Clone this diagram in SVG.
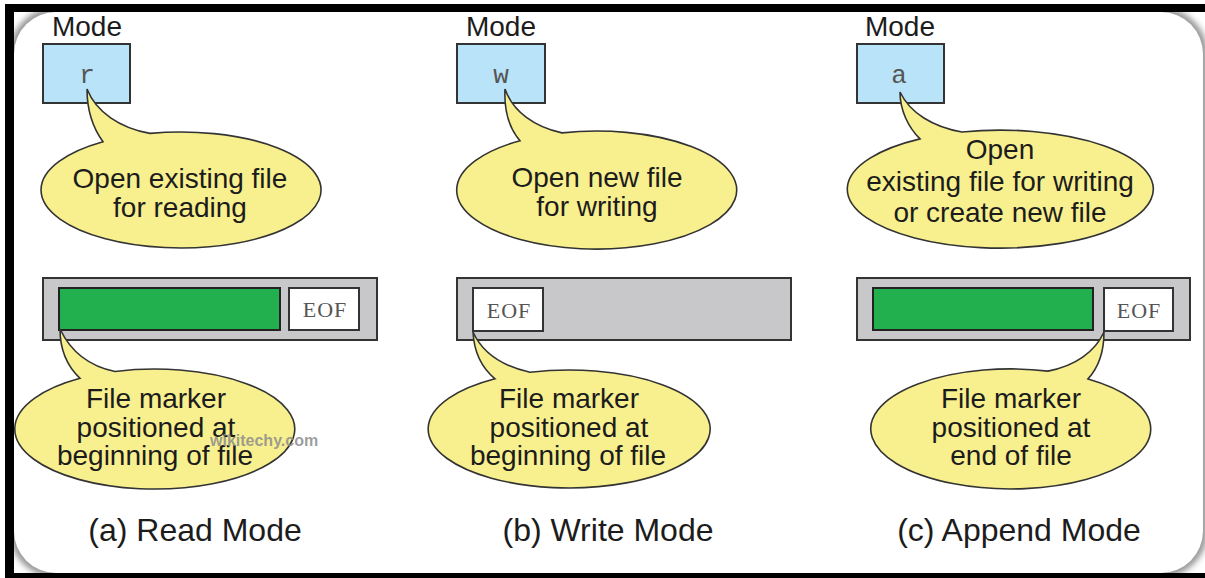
<svg xmlns="http://www.w3.org/2000/svg" width="1205" height="578" viewBox="0 0 1205 578">
<style>
.lbl{font-family:"Liberation Sans",Arial,sans-serif;font-size:28px;fill:#1c1c1c;text-anchor:middle}
.cap{font-family:"Liberation Sans",Arial,sans-serif;font-size:32px;fill:#1c1c1c;text-anchor:middle}
.mono{font-family:"Liberation Mono","Courier New",monospace;fill:#555;text-anchor:middle}
.eoft{font-family:"Liberation Serif","Times New Roman",serif;font-size:22px;fill:#555;text-anchor:middle;letter-spacing:1px}
.mode{fill:#b9e3f8;stroke:#333;stroke-width:2}
.bub{fill:#f8f08e;stroke:#333;stroke-width:1.6}
.bar{fill:#c8c8ca;stroke:#333;stroke-width:2}
.grn{fill:#22b04e;stroke:#222;stroke-width:2}
.eof{fill:#fff;stroke:#333;stroke-width:2}
</style>
<defs>
<filter id="sh" x="-5%" y="-5%" width="110%" height="110%"><feGaussianBlur stdDeviation="3"/></filter>
<clipPath id="inner"><rect x="14" y="12" width="1191" height="561"/></clipPath>
</defs>
<g id="frame">
<rect x="0" y="0" width="1205" height="578" fill="#fff"/>
<g clip-path="url(#inner)">
<rect x="14" y="12" width="1189" height="561" rx="42" fill="none" stroke="#8a8a8a" stroke-width="8" filter="url(#sh)"/>
<rect x="14" y="12" width="1189" height="561" rx="42" fill="#fff"/>
</g>
<rect x="5" y="4" width="1200" height="8" fill="#000"/>
<rect x="5" y="4" width="9" height="574" fill="#000"/>
<rect x="5" y="573" width="1200" height="5" fill="#000"/>
</g>

<g id="connectors"></g>

<g id="panel-a">
<g id="mode-a">
<text class="lbl" x="87" y="36">Mode</text>
<rect class="mode" x="43" y="44" width="87" height="59"/>
<text class="mono" x="87" y="83" font-size="26">r</text>
</g>
<g id="bubble-a-top">
<path class="bub" d="M103,141.8 C93,128 87,110 87,89 C96,112 120,128 150,133.4 A140 58 0 1 1 103,141.8 Z"/>
<text class="lbl" x="180" y="188">Open existing file</text>
<text class="lbl" x="180" y="217">for reading</text>
</g>
<g id="bar-a">
<rect class="bar" x="43" y="278" width="334" height="62"/>
<rect class="grn" x="59" y="288" width="221" height="42"/>
<rect class="eof" x="289" y="288" width="70" height="42"/>
<text class="eoft" x="325" y="317">EOF</text>
</g>
<g id="bubble-a-bottom">
<path class="bub" d="M80,378.3 C68,367 60,350 60,329 C70,350 88,366 115,371.5 A140 60 0 1 1 80,378.3 Z"/>
<text class="lbl" x="156" y="408">File marker</text>
<text class="lbl" x="156" y="437">positioned at</text>
<text class="lbl" x="155" y="465">beginning of file</text>
<text x="210" y="446" font-family="'Liberation Sans',Arial,sans-serif" font-size="16" font-weight="bold" fill="#8c8c8c" fill-opacity="0.85">wikitechy.com</text>
</g>
<text id="caption-a" class="cap" x="195" y="541">(a) Read Mode</text>
</g>

<g id="panel-b">
<g id="mode-b">
<text class="lbl" x="501" y="36">Mode</text>
<rect class="mode" x="457" y="44" width="88" height="59"/>
<text class="mono" x="501" y="83" font-size="26">w</text>
</g>
<g id="bubble-b-top">
<path class="bub" d="M520,140.7 C509,128 504,110 505,89 C513,112 535,127 562,132.9 A140 59 0 1 1 520,140.7 Z"/>
<text class="lbl" x="597" y="187">Open new file</text>
<text class="lbl" x="597" y="216">for writing</text>
</g>
<g id="bar-b">
<rect class="bar" x="457" y="278" width="334" height="62"/>
<rect class="eof" x="473" y="288" width="70" height="43"/>
<text class="eoft" x="509" y="318">EOF</text>
</g>
<g id="bubble-b-bottom">
<path class="bub" d="M495,378.8 C482,368 474,352 473,332 C482,352 502,366 530,372.3 A141 59 0 1 1 495,378.8 Z"/>
<text class="lbl" x="569" y="408">File marker</text>
<text class="lbl" x="569" y="437">positioned at</text>
<text class="lbl" x="568" y="465">beginning of file</text>
</g>
<text id="caption-b" class="cap" x="608" y="541">(b) Write Mode</text>
</g>

<g id="panel-c">
<g id="mode-c">
<text class="lbl" x="900" y="36">Mode</text>
<rect class="mode" x="857" y="44" width="87" height="59"/>
<text class="mono" x="899" y="83" font-size="26">a</text>
</g>
<g id="bubble-c-top">
<path class="bub" d="M920,138.9 C908,127 900,110 900,92 C910,113 933,127 962,132 A153 59 0 1 1 920,138.9 Z"/>
<text class="lbl" x="1000" y="159">Open</text>
<text class="lbl" x="1000" y="191">existing file for writing</text>
<text class="lbl" x="1000" y="222">or create new file</text>
</g>
<g id="bar-c">
<rect class="bar" x="857" y="278" width="333" height="62"/>
<rect class="grn" x="873" y="288" width="220" height="42"/>
<rect class="eof" x="1104" y="288" width="69" height="43"/>
<text class="eoft" x="1139" y="318">EOF</text>
</g>
<g id="bubble-c-bottom">
<path class="bub" d="M1048,371.1 C1075,366 1095,352 1104,332 C1104,352 1098,368 1088,378.9 A140 60 0 1 1 1048,371.1 Z"/>
<text class="lbl" x="1011" y="408">File marker</text>
<text class="lbl" x="1011" y="437">positioned at</text>
<text class="lbl" x="1011" y="465">end of file</text>
</g>
<text id="caption-c" class="cap" x="1019" y="541">(c) Append Mode</text>
</g>
</svg>
